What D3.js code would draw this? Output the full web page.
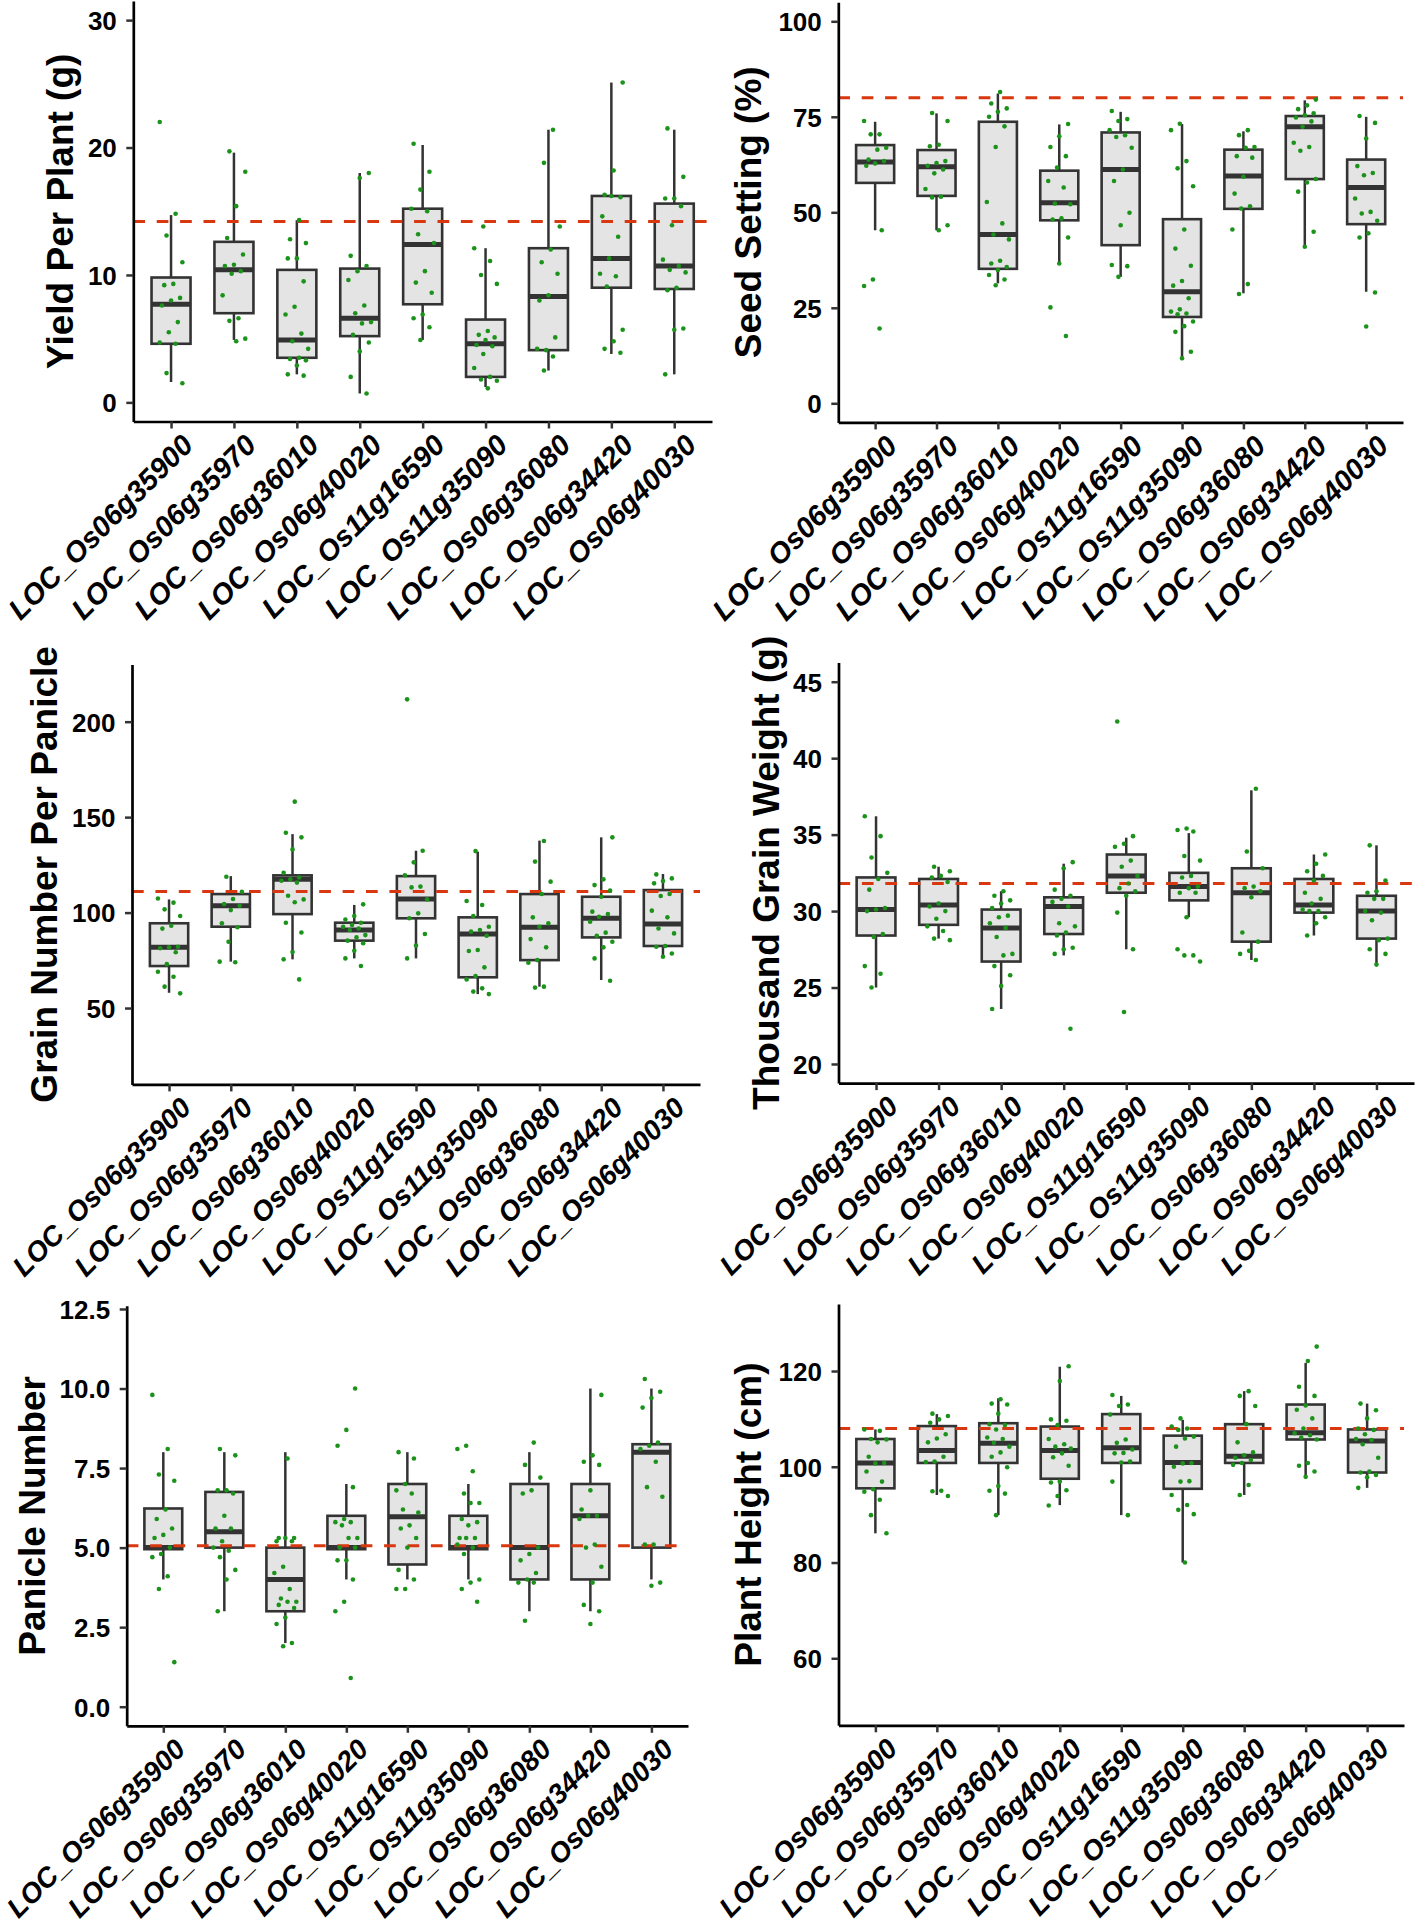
<!DOCTYPE html>
<html>
<head>
<meta charset="utf-8">
<script src="https://cdn.jsdelivr.net/npm/d3@7"></script>
<style>
  body { margin: 0; background: #fff; }
  text { font-family: "Liberation Sans", Arial, sans-serif; }
</style>
</head>
<body>
<svg id="chart" width="1418" height="1928"></svg>
<script>
const genes = ["LOC_Os06g35900", "LOC_Os06g35970", "LOC_Os06g36010", "LOC_Os06g40020",
	"LOC_Os11g16590", "LOC_Os11g35090", "LOC_Os06g36080", "LOC_Os06g34420", "LOC_Os06g40030"];

// Box stats per gene: [lower whisker, q1, median, q3, upper whisker]
const yieldBoxes = [
	[1.6, 4.6, 7.7, 9.8, 14.7], [4.9, 7.0, 10.4, 12.6, 19.6], [2.2, 3.5, 4.9, 10.4, 14.3],
	[0.7, 5.2, 6.6, 10.5, 18.0], [4.9, 7.7, 12.4, 15.2, 20.2], [1.2, 2.0, 4.6, 6.5, 12.1],
	[2.5, 4.1, 8.3, 12.1, 21.4], [3.8, 9.0, 11.3, 16.2, 25.1], [2.2, 8.9, 10.7, 15.6, 21.4]
];
const yieldPoints = [
	[22.0, 14.8, 13.1, 11.0, 9.3, 9.2, 8.2, 8.0, 7.6, 6.3, 5.5, 4.7, 4.6, 2.3, 1.5],
	[19.7, 18.1, 15.4, 12.9, 11.6, 10.8, 10.7, 10.3, 10.1, 8.4, 6.6, 6.4, 5.0, 4.8],
	[14.3, 12.8, 12.5, 11.3, 11.3, 9.5, 7.5, 6.9, 5.4, 4.8, 4.2, 3.5, 3.4, 3.3, 2.9, 2.2, 2.1],
	[18.0, 17.6, 11.5, 10.7, 10.3, 9.6, 7.6, 7.0, 6.3, 6.2, 5.3, 4.7, 4.0, 2.0, 0.7],
	[20.3, 18.1, 16.7, 15.2, 15.0, 13.2, 12.5, 10.3, 9.4, 8.6, 6.9, 6.6, 5.9, 4.9],
	[13.8, 12.1, 11.1, 10.0, 9.3, 5.6, 5.3, 5.1, 4.9, 4.5, 4.4, 3.8, 2.7, 2.0, 1.8, 1.7, 1.1],
	[21.4, 18.8, 13.8, 12.0, 11.0, 10.1, 8.4, 8.0, 5.1, 4.1, 4.2, 3.6, 2.5],
	[25.1, 18.2, 16.3, 16.1, 16.2, 14.6, 13.0, 11.3, 10.1, 9.9, 9.1, 5.7, 4.8, 4.2, 3.9],
	[21.5, 17.7, 16.0, 16.0, 15.4, 13.9, 11.2, 10.7, 10.4, 10.2, 9.0, 8.8, 5.8, 5.7, 2.2]
];
const yieldRef = 14.2;
const yieldTicks = [0, 10, 20, 30];

const seedBoxes = [
	[45.3, 57.7, 63.2, 67.6, 73.7], [45.3, 54.3, 61.9, 66.3, 75.9], [31.4, 35.2, 44.2, 73.7, 81.1],
	[36.6, 47.9, 52.5, 60.9, 73.0], [33.1, 41.4, 61.2, 70.9, 76.3], [11.3, 22.6, 29.2, 48.2, 73.1],
	[28.8, 50.9, 59.5, 66.4, 71.2], [41.4, 58.7, 72.4, 75.2, 79.3], [29.2, 46.9, 56.5, 63.8, 75.0]
];
const seedPoints = [
	[73.9, 70.4, 70.4, 66.9, 66.4, 63.8, 63.4, 62.8, 62.2, 45.3, 32.4, 30.7, 19.6],
	[76.0, 73.9, 67.7, 67.3, 63.4, 62.9, 62.2, 61.2, 60.2, 56.1, 54.1, 53.9, 46.6, 45.3],
	[81.5, 78.5, 77.2, 76.3, 75.0, 72.5, 67.1, 52.7, 47.1, 44.2, 42.9, 37.3, 36.6, 35.7, 34.9, 33.6, 32.4, 30.9],
	[73.1, 69.9, 67.1, 64.7, 61.7, 58.2, 56.5, 52.3, 52.1, 48.4, 48.1, 43.4, 36.6, 25.1, 17.6],
	[76.5, 74.4, 73.9, 71.5, 70.2, 69.7, 66.9, 61.2, 58.2, 49.9, 46.6, 36.2, 35.9, 33.1],
	[73.2, 71.5, 63.4, 61.5, 56.8, 45.5, 40.5, 36.0, 32.0, 30.8, 27.5, 24.6, 24.0, 23.5, 23.3, 21.4, 20.2, 18.7, 13.5, 11.8],
	[71.5, 70.2, 67.1, 66.9, 64.7, 64.3, 59.3, 54.9, 51.6, 51.0, 45.5, 31.2, 28.6],
	[79.5, 78.0, 77.0, 75.9, 75.4, 74.8, 73.8, 72.4, 68.2, 67.1, 66.1, 58.7, 57.8, 55.4, 44.9, 41.0],
	[75.2, 73.4, 69.3, 62.1, 60.3, 59.7, 53.6, 50.1, 49.7, 47.8, 44.5, 43.4, 29.0, 20.1]
];
const seedRef = 80.0;
const seedTicks = [0, 25, 50, 75, 100];

const grainBoxes = [
	[58.0, 72.0, 81.8, 94.4, 106.9], [74.3, 92.6, 103.6, 109.7, 119.1], [75.5, 99.2, 117.4, 119.5, 141.1],
	[76.0, 85.3, 90.9, 94.7, 104.0], [76.0, 97.0, 107.1, 119.1, 132.4], [57.3, 66.1, 88.8, 97.5, 131.9],
	[61.2, 75.1, 92.3, 109.7, 137.7], [64.7, 87.0, 97.0, 108.3, 139.4], [77.2, 82.5, 94.0, 111.8, 120.2]
];
const grainPoints = [
	[107.4, 105.2, 101.7, 98.2, 93.1, 91.6, 82.1, 81.8, 81.3, 79.2, 73.0, 69.0, 66.4, 61.2, 57.7],
	[118.8, 110.9, 107.1, 104.5, 103.6, 101.3, 94.4, 92.3, 84.7, 74.3, 74.0],
	[158.1, 141.8, 139.4, 133.1, 120.9, 118.4, 117.4, 116.7, 115.7, 108.8, 106.9, 105.4, 94.7, 89.6, 79.3, 75.5, 65.0],
	[104.3, 98.2, 96.4, 94.7, 93.5, 92.6, 91.7, 90.9, 88.2, 87.0, 85.3, 83.9, 80.0, 76.0, 72.0],
	[211.7, 132.4, 126.3, 119.5, 113.6, 113.2, 106.9, 99.6, 97.0, 88.8, 82.7, 76.0],
	[132.2, 106.1, 104.0, 98.2, 92.6, 90.9, 90.0, 87.9, 80.4, 79.9, 71.3, 66.8, 65.0, 60.3, 58.6, 57.3],
	[137.5, 126.7, 116.2, 109.7, 97.5, 94.4, 92.6, 86.1, 81.8, 75.1, 73.7, 61.2, 60.7],
	[139.4, 117.4, 114.4, 111.5, 108.3, 100.5, 99.2, 97.8, 95.2, 89.5, 87.9, 84.7, 81.8, 76.0, 64.3],
	[120.0, 117.9, 116.5, 115.3, 109.7, 108.7, 101.0, 97.5, 91.7, 89.1, 82.5, 82.1, 78.6, 76.9]
];
const grainRef = 111.1;
const grainTicks = [50, 100, 150, 200];

const tgwBoxes = [
	[25.0, 28.4, 30.1, 32.2, 36.2], [28.2, 29.1, 30.4, 32.1, 32.9], [23.6, 26.7, 28.9, 30.1, 31.3],
	[27.1, 28.5, 30.3, 30.9, 33.1], [27.5, 31.2, 32.3, 33.7, 34.8], [29.6, 30.7, 31.6, 32.5, 35.1],
	[26.8, 28.0, 31.2, 32.8, 37.9], [28.4, 29.9, 30.4, 32.1, 33.7], [26.5, 28.2, 30.0, 31.0, 34.3]
];
const tgwPoints = [
	[36.2, 34.9, 33.5, 32.5, 32.1, 31.4, 30.2, 30.1, 30.0, 28.5, 28.3, 26.4, 25.9, 25.0],
	[32.9, 32.6, 32.3, 32.2, 31.9, 30.5, 30.3, 30.0, 29.5, 29.0, 28.7, 28.2, 28.1],
	[31.3, 31.0, 30.7, 30.5, 30.2, 29.7, 29.6, 29.2, 28.9, 28.3, 27.2, 27.1, 26.4, 25.8, 25.1, 23.6],
	[33.2, 32.8, 31.4, 31.0, 30.8, 30.6, 30.3, 29.2, 29.0, 28.6, 28.4, 27.6, 27.5, 27.2, 22.3],
	[42.4, 34.9, 34.4, 34.2, 33.3, 32.9, 32.3, 31.8, 31.5, 31.3, 31.0, 29.9, 27.5, 23.4],
	[35.4, 35.3, 35.2, 33.6, 33.3, 32.3, 32.2, 31.6, 31.5, 31.2, 31.2, 29.6, 27.5, 27.1, 27.1, 26.7],
	[38.0, 33.9, 32.8, 31.6, 31.5, 31.3, 30.9, 28.6, 28.0, 27.4, 27.2, 26.8],
	[33.7, 33.1, 32.6, 32.3, 32.0, 31.2, 30.8, 30.5, 30.1, 30.0, 30.0, 29.6, 29.2, 28.4],
	[34.3, 32.0, 31.3, 31.2, 30.8, 30.8, 30.0, 29.9, 29.4, 28.2, 28.1, 27.5, 27.2, 26.5]
];
const tgwRef = 31.8;
const tgwTicks = [20, 25, 30, 35, 40, 45];

const panicleBoxes = [
	[4.0, 4.95, 5.0, 6.23, 8.0], [3.0, 5.0, 5.5, 6.75, 8.0], [2.0, 3.0, 4.0, 5.0, 8.0],
	[4.0, 4.95, 5.0, 6.0, 7.0], [4.0, 4.47, 5.97, 7.0, 8.0], [4.0, 4.95, 5.0, 6.0, 7.0],
	[3.0, 4.0, 5.0, 7.0, 8.0], [3.0, 4.0, 6.0, 7.0, 10.0], [4.0, 5.0, 8.0, 8.25, 10.0]
];
const paniclePoints = [
	[9.8, 8.1, 7.3, 7.1, 6.2, 5.9, 5.6, 5.4, 5.3, 5.0, 4.8, 4.7, 4.1, 3.7, 1.4],
	[8.1, 7.9, 6.8, 6.8, 6.7, 6.0, 5.6, 5.6, 5.2, 5.0, 4.9, 4.7, 4.3, 4.0, 3.0],
	[7.8, 5.3, 5.3, 5.3, 5.2, 5.2, 4.4, 4.2, 3.7, 3.4, 3.3, 3.3, 3.2, 3.1, 2.8, 2.6, 2.0, 1.9],
	[10.0, 8.7, 8.2, 6.9, 5.9, 5.8, 5.8, 5.7, 5.3, 5.3, 5.0, 5.0, 4.6, 4.6, 4.0, 3.3, 3.0, 0.9],
	[8.0, 7.8, 7.0, 6.8, 6.7, 6.2, 6.1, 5.7, 5.6, 5.3, 5.0, 4.3, 4.0, 3.7, 3.7],
	[8.2, 8.1, 7.4, 6.7, 6.4, 6.4, 5.9, 5.8, 5.7, 5.3, 5.3, 5.3, 5.1, 5.0, 4.8, 4.0, 3.9, 3.7, 3.3],
	[8.3, 7.6, 7.2, 6.8, 6.7, 5.0, 4.8, 4.6, 4.2, 4.0, 3.9, 3.9, 2.7],
	[9.8, 7.9, 7.7, 7.6, 6.8, 6.2, 6.0, 6.0, 5.9, 5.1, 5.0, 4.4, 3.9, 3.2, 3.0, 2.6],
	[10.3, 9.9, 9.7, 9.4, 8.3, 8.2, 8.1, 7.7, 6.9, 6.6, 5.1, 5.1, 3.9, 3.8]
];
const panicleRef = 5.06;
const panicleTicks = [0, 2.5, 5, 7.5, 10, 12.5];

const heightBoxes = [
	[86.1, 95.5, 100.8, 105.8, 107.8], [94.1, 100.8, 103.4, 108.5, 111.0], [89.9, 100.8, 104.9, 109.1, 114.3],
	[92.0, 97.5, 103.4, 108.4, 120.9], [89.9, 100.8, 104.0, 111.0, 114.8], [80.0, 95.4, 100.9, 106.5, 109.8],
	[94.1, 100.8, 102.2, 108.9, 115.8], [97.9, 105.7, 107.1, 113.0, 121.7], [95.6, 98.8, 105.4, 107.8, 113.2]
];
const heightPoints = [
	[107.8, 107.5, 105.8, 105.7, 105.1, 102.1, 100.8, 100.7, 99.0, 96.9, 95.3, 94.8, 93.1, 89.9, 86.1],
	[111.1, 110.6, 109.9, 109.2, 106.8, 105.9, 105.1, 102.1, 101.1, 101.0, 95.0, 94.9, 93.9],
	[114.1, 113.2, 113.0, 111.1, 108.9, 108.7, 107.8, 106.1, 105.8, 105.0, 104.2, 103.0, 102.1, 99.9, 96.0, 95.0, 94.4, 89.9],
	[121.0, 117.9, 109.9, 109.6, 108.7, 105.8, 104.7, 104.2, 103.8, 102.8, 102.0, 100.2, 96.9, 96.7, 95.1, 93.9, 91.9],
	[115.0, 113.0, 112.7, 110.9, 105.7, 105.0, 103.6, 102.9, 102.8, 101.1, 100.9, 96.9, 89.9],
	[110.1, 108.4, 108.0, 107.7, 106.3, 105.9, 104.2, 100.8, 100.7, 100.0, 97.0, 96.9, 94.1, 92.0, 91.0, 90.1, 80.0],
	[115.8, 114.8, 112.7, 108.9, 105.1, 103.0, 102.4, 101.9, 101.4, 100.8, 100.4, 96.2, 94.1],
	[125.1, 122.1, 116.7, 114.8, 112.8, 111.9, 110.1, 108.0, 107.0, 106.6, 106.1, 105.7, 100.8, 100.2, 99.0, 97.9],
	[113.2, 111.8, 110.1, 108.0, 107.7, 106.8, 105.8, 105.6, 104.7, 101.9, 99.0, 98.8, 98.3, 97.8, 95.6]
];
const heightRef = 108.0;
const heightTicks = [60, 80, 100, 120];


// Panel frames in page pixels
const panels = [
	{ title: "Yield Per Plant (g)", boxes: yieldBoxes, points: yieldPoints, ref: yieldRef, ticks: yieldTicks,
		format: d3.format("d"), domain: [-1.5, 31.5], left: 133.3, right: 712, top: 1, bottom: 421.5, titleX: 72.5, labelSize: 29 },
	{ title: "Seed Setting (%)", boxes: seedBoxes, points: seedPoints, ref: seedRef, ticks: seedTicks,
		format: d3.format("d"), domain: [-5, 105], left: 838.3, right: 1403, top: 2.2, bottom: 422.4, titleX: 761, labelSize: 29 },
	{ title: "Grain Number Per Panicle", boxes: grainBoxes, points: grainPoints, ref: grainRef, ticks: grainTicks,
		format: d3.format("d"), domain: [10, 230], left: 132, right: 700, top: 664.4, bottom: 1084.4, titleX: 56.5, labelSize: 28 },
	{ title: "Thousand Grain Weight (g)", boxes: tgwBoxes, points: tgwPoints, ref: tgwRef, ticks: tgwTicks,
		format: d3.format("d"), domain: [18.75, 46.25], left: 838.5, right: 1414, top: 662.6, bottom: 1083.1, titleX: 779, labelSize: 28 },
	{ title: "Panicle Number", boxes: panicleBoxes, points: paniclePoints, ref: panicleRef, ticks: panicleTicks,
		format: d3.format(".1f"), domain: [-0.6, 12.6], left: 126.7, right: 688, top: 1305.8, bottom: 1725.8, titleX: 45, labelSize: 28 },
	{ title: "Plant Height (cm)", boxes: heightBoxes, points: heightPoints, ref: heightRef, ticks: heightTicks,
		format: d3.format("d"), domain: [46, 134], left: 838.5, right: 1404, top: 1304, bottom: 1725.3, titleX: 761, labelSize: 28 }
];

const svg = d3.select("#chart");
svg.append("rect").attr("width", 1418).attr("height", 1928).attr("fill", "#fff");

for (const panel of panels) {
	drawPanel(svg, panel);
}


function drawPanel(svg, panel) {
	const x = d3.scalePoint().domain(genes).range([panel.left, panel.right]).padding(0.6);
	const y = d3.scaleLinear().domain(panel.domain).range([panel.bottom, panel.top]);
	const step = x.step();
	const boxWidth = step * 0.62;

	const g = svg.append("g");

	// Boxplots
	const box = g.selectAll("g.box")
		.data(panel.boxes.map((stats, i) => ({ gene: genes[i], stats })))
		.join("g")
		.attr("class", "box")
		.attr("transform", d => `translate(${x(d.gene)},0)`);

	box.append("line")
		.attr("y1", d => y(d.stats[0])).attr("y2", d => y(d.stats[1]))
		.attr("stroke", "#333").attr("stroke-width", 2.5);
	box.append("line")
		.attr("y1", d => y(d.stats[3])).attr("y2", d => y(d.stats[4]))
		.attr("stroke", "#333").attr("stroke-width", 2.5);
	box.append("rect")
		.attr("x", -boxWidth / 2)
		.attr("width", boxWidth)
		.attr("y", d => y(d.stats[3]))
		.attr("height", d => y(d.stats[1]) - y(d.stats[3]))
		.attr("fill", "#e4e4e4")
		.attr("stroke", "#333").attr("stroke-width", 2.6);
	box.append("line")
		.attr("x1", -boxWidth / 2).attr("x2", boxWidth / 2)
		.attr("y1", d => y(d.stats[2])).attr("y2", d => y(d.stats[2]))
		.attr("stroke", "#333").attr("stroke-width", 5);

	// Reference line
	g.append("line")
		.attr("x1", panel.left).attr("x2", panel.right)
		.attr("y1", y(panel.ref)).attr("y2", y(panel.ref))
		.attr("stroke", "#d9370f").attr("stroke-width", 3)
		.attr("stroke-dasharray", "11.7,11.7");

	// Jittered points (fixed spread pattern)
	const pts = [];
	panel.points.forEach((values, i) => {
		values.forEach((v, j) => {
			const offset = (((j * 7 + i * 3) % 11) / 10 - 0.5) * 0.36 * step;
			pts.push({ gene: genes[i], value: v, offset });
		});
	});
	g.selectAll("circle.pt")
		.data(pts)
		.join("circle")
		.attr("class", "pt")
		.attr("cx", d => x(d.gene) + d.offset)
		.attr("cy", d => y(d.value))
		.attr("r", 2.3)
		.attr("fill", "#1b931b");

	// Y axis
	const yAxis = g.append("g")
		.attr("transform", `translate(${panel.left},0)`)
		.call(d3.axisLeft(y).tickValues(panel.ticks).tickFormat(panel.format).tickSize(7).tickSizeOuter(0));
	yAxis.select(".domain").attr("stroke", "#000").attr("stroke-width", 2.7);
	yAxis.selectAll(".tick line").attr("stroke", "#333").attr("stroke-width", 2.5);
	yAxis.selectAll(".tick text")
		.attr("x", -16.5)
		.attr("dy", "0.36em")
		.attr("fill", "#000")
		.style("font-family", '"Liberation Sans", Arial, sans-serif')
		.style("font-size", "26px")
		.style("font-weight", "bold");

	// X axis
	const xAxis = g.append("g")
		.attr("transform", `translate(0,${panel.bottom})`)
		.call(d3.axisBottom(x).tickSize(7).tickSizeOuter(0));
	xAxis.select(".domain").attr("stroke", "#000").attr("stroke-width", 2.7);
	xAxis.selectAll(".tick line").attr("stroke", "#333").attr("stroke-width", 2.5);
	xAxis.selectAll(".tick text")
		.attr("x", 0).attr("y", 0)
		.attr("dy", "0.36em")
		.attr("text-anchor", "end")
		.attr("transform", "translate(16,18) rotate(-45)")
		.attr("fill", "#000")
		.style("font-family", '"Liberation Sans", Arial, sans-serif')
		.style("font-size", `${panel.labelSize}px`)
		.style("font-weight", "bold")
		.style("font-style", "italic");

	// Axis title
	g.append("text")
		.attr("transform", `translate(${panel.titleX},${(panel.top + panel.bottom) / 2}) rotate(-90)`)
		.attr("text-anchor", "middle")
		.style("font-size", "37px")
		.style("font-weight", "bold")
		.text(panel.title);
}
</script>
</body>
</html>
